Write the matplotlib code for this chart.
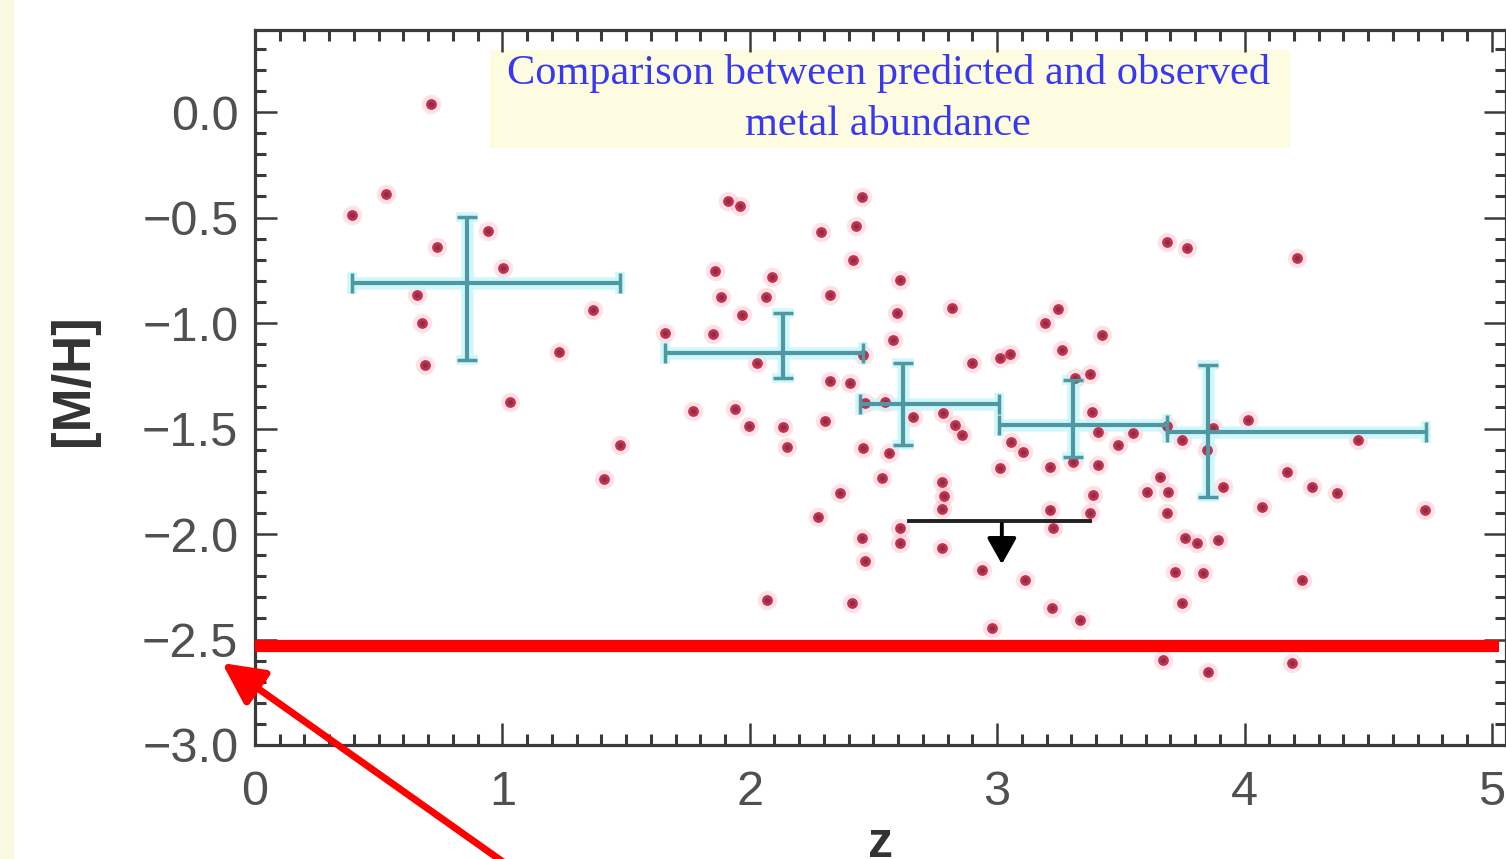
import numpy as np
import matplotlib
matplotlib.use("Agg")
import matplotlib.pyplot as plt
from matplotlib.patches import Rectangle, FancyArrowPatch
from matplotlib.ticker import MultipleLocator, FuncFormatter

# individual absorbers: redshift and metallicity
z_obs = [
    0.711, 0.392, 0.530, 0.736, 0.942, 1.002, 0.655, 0.675, 0.687, 1.031,
    1.229, 1.366, 1.475, 1.411,
    1.912, 1.960, 2.454, 2.288, 2.429, 2.417, 1.859, 2.090, 1.884, 2.065,
    2.324, 1.968, 1.657, 1.851, 2.607, 2.595, 2.579, 2.029, 2.458, 2.324,
    2.405, 2.466, 2.546, 1.770, 1.940, 1.997, 2.134, 2.150, 2.304, 2.458,
    2.563, 2.534, 2.365, 2.276, 2.454, 2.466, 2.070, 2.413, 2.607, 2.607,
    2.817, 3.246, 3.193, 3.262, 2.898, 3.011, 3.052, 3.314, 3.375, 3.424,
    2.660, 2.781, 2.829, 2.858, 3.056, 3.104, 3.383, 3.407, 3.306, 3.407,
    3.011, 3.213, 2.777, 2.785, 2.777, 3.387, 3.375, 3.213, 3.226, 2.777,
    2.939, 3.112, 3.222, 3.335, 2.979,
    3.686, 3.767, 4.212, 4.014, 3.686, 3.549, 3.488, 3.747, 3.872, 3.848,
    4.171, 4.272, 4.373, 3.658, 3.606, 3.690, 3.913, 4.070, 3.686, 3.759,
    3.808, 3.892, 3.719, 3.832, 4.232, 3.747, 3.670, 3.852, 4.192, 4.458,
    4.729,
]
mh_obs = [
    0.038, -0.488, -0.389, -0.640, -0.564, -0.739, -0.867, -1.000, -1.199, -1.374,
    -1.137, -0.938, -1.578, -1.739,
    -0.422, -0.445, -0.403, -0.569, -0.540, -0.701, -0.754, -0.782, -0.877, -0.877,
    -0.867, -0.962, -1.047, -1.052, -0.796, -0.953, -1.081, -1.190, -1.152, -1.275,
    -1.284, -1.379, -1.374, -1.417, -1.408, -1.488, -1.493, -1.588, -1.464, -1.592,
    -1.616, -1.735, -1.806, -1.919, -2.019, -2.128, -2.313, -2.327, -1.972, -2.043,
    -0.929, -0.934, -1.000, -1.128, -1.190, -1.166, -1.147, -1.261, -1.242, -1.057,
    -1.445, -1.427, -1.483, -1.531, -1.564, -1.611, -1.422, -1.517, -1.659, -1.673,
    -1.687, -1.682, -1.754, -1.820, -1.882, -1.815, -1.900, -1.886, -1.972, -2.066,
    -2.171, -2.218, -2.351, -2.408, -2.445,
    -0.616, -0.645, -0.692, -1.460, -1.488, -1.521, -1.578, -1.555, -1.498, -1.602,
    -1.706, -1.777, -1.806, -1.730, -1.801, -1.801, -1.777, -1.872, -1.900, -2.019,
    -2.043, -2.028, -2.180, -2.185, -2.218, -2.327, -2.597, -2.654, -2.611, -1.555,
    -1.886,
]

# binned means: centre, bin edges in z, and metallicity spread
bin_z = [0.857, 2.134, 2.619, 3.306, 3.852]
bin_z_lo = [0.392, 1.657, 2.445, 3.007, 3.686]
bin_z_hi = [1.475, 2.458, 3.007, 3.686, 4.733]
bin_mh = [-0.810, -1.142, -1.384, -1.481, -1.517]
bin_mh_lo = [-1.175, -1.261, -1.578, -1.635, -1.825]
bin_mh_hi = [-0.498, -0.953, -1.190, -1.270, -1.199]

# upper-limit bin
lim_z, lim_z_lo, lim_z_hi = 3.019, 2.643, 3.375
lim_mh, lim_mh_tip = -1.938, -2.156

floor_mh = -2.53

fig = plt.figure(figsize=(15.06, 8.59), dpi=100)
fig.patches.append(Rectangle((0, 0), 13 / 1506, 1, transform=fig.transFigure,
                             color="#fafae4", zorder=0))
ax = fig.add_axes([255 / 1506, 1 - 745 / 859, 1251 / 1506, 715 / 859])
ax.set_xlim(0, 5.057)
ax.set_ylim(-3.0, 0.389)

# points with a soft halo
ax.scatter(z_obs, mh_obs, s=200, color="#ff8fa6", alpha=0.25, lw=0, zorder=2)
ax.scatter(z_obs, mh_obs, s=60, color="#c4304e", lw=0, zorder=4)
ax.scatter(z_obs, mh_obs, s=14, color="#8a3045", lw=0, zorder=5)

# binned error crosses
xerr = [np.subtract(bin_z, bin_z_lo), np.subtract(bin_z_hi, bin_z)]
yerr = [np.subtract(bin_mh, bin_mh_lo), np.subtract(bin_mh_hi, bin_mh)]
ax.errorbar(bin_z, bin_mh, xerr=xerr, yerr=yerr, fmt="none", ecolor="#c6f6fb",
            elinewidth=9, capsize=8, capthick=7, alpha=0.8, zorder=3)
ax.errorbar(bin_z, bin_mh, xerr=xerr, yerr=yerr, fmt="none", ecolor="#4f98a2",
            elinewidth=3, capsize=7, capthick=2.5, zorder=6)

# upper limit
ax.plot([lim_z_lo, lim_z_hi], [lim_mh, lim_mh], color="#222222", lw=2.8, zorder=6)
ax.annotate("", xy=(lim_z, lim_mh_tip), xytext=(lim_z, lim_mh),
            arrowprops=dict(arrowstyle="-|>,head_length=0.8,head_width=0.45",
                            color="black", lw=2.8, mutation_scale=20), zorder=7)

ax.plot([0, 5.03], [floor_mh, floor_mh], color="#ff0000", lw=8.8,
        solid_capstyle="butt", zorder=8)

# caption box
ax.add_patch(Rectangle((0.188, 0.835), 0.639, 0.137, transform=ax.transAxes,
                       color="#fdfbe0", lw=0, zorder=1))
ax.text(0.506, 0.9035, "Comparison between predicted and observed\nmetal abundance",
        transform=ax.transAxes, ha="center", va="center", color="#3838f2",
        family="Liberation Serif", fontsize=30.5, linespacing=1.45, zorder=9)

# axes styling
for s in ax.spines.values():
    s.set_color("#3a3a3a")
    s.set_linewidth(2.3)
ax.xaxis.set_major_locator(MultipleLocator(1))
ax.xaxis.set_minor_locator(MultipleLocator(0.1))
ax.yaxis.set_major_locator(MultipleLocator(0.5))
ax.yaxis.set_minor_locator(MultipleLocator(0.1))
ax.set_yticks([0.0, -0.5, -1.0, -1.5, -2.0, -2.5, -3.0])
ax.yaxis.set_major_formatter(FuncFormatter(
    lambda v, p: f"{abs(v):.1f}" if abs(v) < 1e-9 else f"{v:.1f}".replace("-", "\u2212")))
ax.tick_params(which="both", direction="in", top=True, right=True,
               colors="#3a3a3a", labelcolor="#505050")
ax.tick_params(which="major", length=16, width=1.8)
ax.tick_params(which="minor", length=8, width=2.2)
ax.tick_params(axis="y", which="major", pad=12, labelsize=35)
ax.tick_params(axis="x", which="major", pad=18, labelsize=35)
for lab in ax.get_xticklabels() + ax.get_yticklabels():
    lab.set_family("Liberation Sans")

ax.set_ylabel("[M/H]", family="Liberation Sans", fontweight="bold", fontsize=38,
              color="#333333")
ax.yaxis.set_label_coords(-0.125, 0.51)
ax.set_xlabel("z", family="Liberation Sans", fontweight="bold", fontsize=36,
              color="#333333", labelpad=4)

# pointer to the floor value
fig.add_artist(FancyArrowPatch((505 / 1506, -0.005), (222 / 1506, 1 - 663 / 859),
                               transform=fig.transFigure,
                               arrowstyle="-|>,head_length=0.7,head_width=0.35",
                               mutation_scale=36, color="#ff0000", lw=5,
                               shrinkA=0, shrinkB=0, zorder=10))

fig.savefig("out.png", dpi=100)
